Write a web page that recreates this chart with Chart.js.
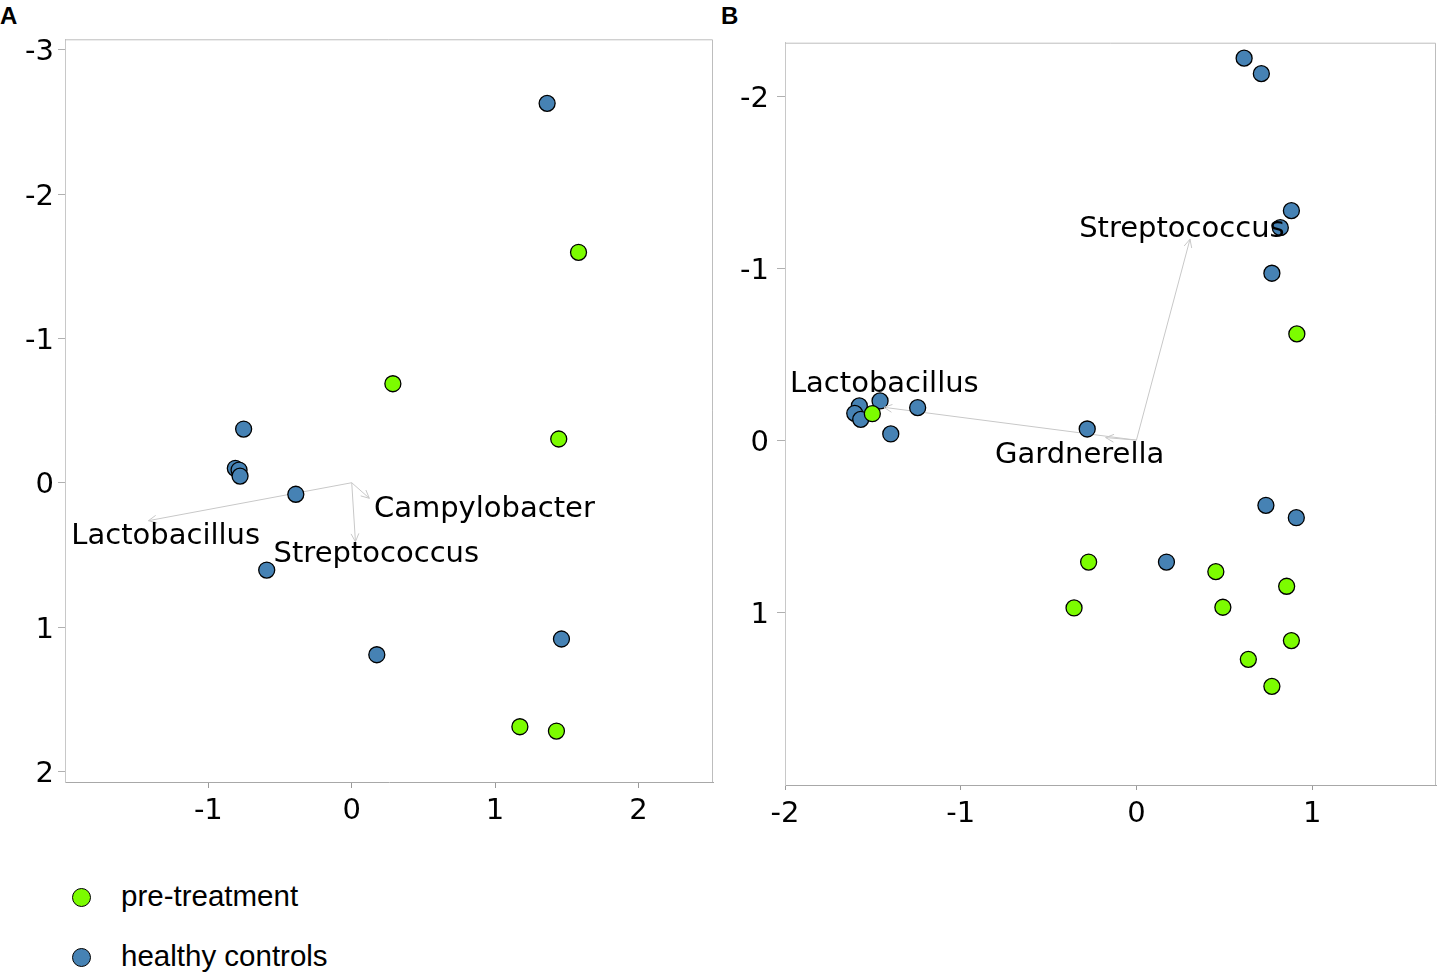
<!DOCTYPE html>
<html><head><meta charset="utf-8">
<script src="https://cdn.jsdelivr.net/npm/chart.js@4.4.1/dist/chart.umd.min.js"></script>
<style>
html,body{margin:0;padding:0;background:#fff;}
body{width:1439px;height:976px;position:relative;overflow:hidden;}
canvas{position:absolute;top:0;}
#ca{left:0;}
#cb{left:720px;}
.panel{position:absolute;font-family:"Liberation Sans",Arial,sans-serif;font-weight:bold;font-size:24px;line-height:24px;color:#000;}
.ltext{position:absolute;font-family:"Liberation Sans",Arial,sans-serif;font-size:29.5px;line-height:29px;color:#000;white-space:nowrap;}
.ldot{position:absolute;width:19px;height:19px;box-sizing:border-box;border:1.5px solid #000;border-radius:50%;}
</style></head>
<body>
<div class="panel" style="left:0px;top:4px;">A</div>
<div class="panel" style="left:721px;top:4px;">B</div>
<canvas id="ca" width="720" height="860" style="width:720px;height:860px;"></canvas>
<canvas id="cb" width="719" height="860" style="width:719px;height:860px;"></canvas>
<div id="legend"></div>
<script>
// ---- data ----
const groups = ["pre-treatment", "healthy controls"];
const groupColors = ["#7CFC00", "#4682B4"];

// Panel A
const aPreX = [1.582, 0.287, 1.444, 1.173, 1.428];
const aPreY = [-1.597, -0.686, -0.303, 1.691, 1.721];
const aHealthyX = [1.363, -0.754, -0.812, -0.786, -0.779, -0.390, -0.593, 0.175, 1.463];
const aHealthyY = [-2.629, -0.372, -0.100, -0.088, -0.046, 0.080, 0.605, 1.192, 1.083];
const aTaxa = ["Lactobacillus", "Campylobacter", "Streptococcus"];
const aArrowX = [-1.418, 0.123, 0.026];
const aArrowY = [0.263, 0.108, 0.409];
const aLabelX = [-1.956, 0.155, -0.545];
const aLabelY = [0.427, 0.236, 0.552];
const aXTicks = [-1, 0, 1, 2];
const aYTicks = [-3, -2, -1, 0, 1, 2];

// Panel B
const bPreX = [0.913, -1.503, -0.272, 0.452, 0.855, -0.355, 0.492, 0.882, 0.637, 0.771];
const bPreY = [-0.618, -0.154, 0.709, 0.765, 0.850, 0.976, 0.972, 1.166, 1.275, 1.432];
const bHealthyX = [0.613, 0.711, 0.882, 0.819, 0.771, -1.459, -1.577, -1.245, -1.603, -1.569, -1.398, -0.280, 0.737, 0.910, 0.171];
const bHealthyY = [-2.222, -2.132, -1.335, -1.236, -0.971, -0.228, -0.199, -0.189, -0.156, -0.121, -0.036, -0.065, 0.379, 0.451, 0.709];
const bTaxa = ["Streptococcus", "Lactobacillus", "Gardnerella"];
const bArrowX = [0.305, -1.437, -0.175];
const bArrowY = [-1.169, -0.191, -0.015];
const bLabelX = [-0.326, -1.972, -0.805];
const bLabelY = [-1.180, -0.282, 0.134];
const bXTicks = [-2, -1, 0, 1];
const bYTicks = [-2, -1, 0, 1];

// ---- helpers ----
const zip = (xs, ys) => xs.map((x, i) => ({x: x, y: ys[i]}));
const ARROW_COLOR = '#c8c8c8';
const FONT = '"DejaVu Sans", sans-serif';

const biplotPlugin = {
  id: 'biplot',
  beforeDatasetsDraw(chart) {
    const a = chart.chartArea, ctx = chart.ctx;
    ctx.save();
    ctx.strokeStyle = '#bdbdbd';
    ctx.lineWidth = 1;
    ctx.beginPath();
    ctx.moveTo(a.left, a.top + 0.5);
    ctx.lineTo(a.right - 0.5, a.top + 0.5);
    ctx.lineTo(a.right - 0.5, a.bottom);
    ctx.stroke();
    ctx.restore();
  },
  afterDatasetsDraw(chart) {
    const o = chart.options.plugins.biplot;
    const xs = chart.scales.x, ys = chart.scales.y, ctx = chart.ctx;
    ctx.save();
    ctx.strokeStyle = ARROW_COLOR;
    ctx.lineWidth = 1;
    const x0 = xs.getPixelForValue(0), y0 = ys.getPixelForValue(0);
    o.ax.forEach((ax, i) => {
      const px = xs.getPixelForValue(ax), py = ys.getPixelForValue(o.ay[i]);
      const ang = Math.atan2(py - y0, px - x0);
      const L = 9, spread = Math.PI / 7;
      ctx.beginPath();
      ctx.moveTo(px - L * Math.cos(ang - spread), py - L * Math.sin(ang - spread));
      ctx.lineTo(px, py);
      ctx.lineTo(px - L * Math.cos(ang + spread), py - L * Math.sin(ang + spread));
      ctx.stroke();
    });
    ctx.fillStyle = '#000';
    ctx.font = '29px ' + FONT;
    ctx.textAlign = 'left';
    ctx.textBaseline = 'alphabetic';
    o.labels.forEach((t, i) => {
      ctx.fillText(t, xs.getPixelForValue(o.lx[i]), ys.getPixelForValue(o.ly[i]));
    });
    ctx.restore();
  }
};

function makeChart(id, p) {
  const arrowSets = p.ax.map((ax, i) => ({
    type: 'scatter', showLine: true, data: [{x: 0, y: 0}, {x: ax, y: p.ay[i]}],
    borderColor: ARROW_COLOR, borderWidth: 1, pointRadius: 0, pointHoverRadius: 0, order: 5, fill: false
  }));
  return new Chart(document.getElementById(id), {
    type: 'scatter',
    data: {
      datasets: [
        {label: groups[0], data: zip(p.preX, p.preY), backgroundColor: groupColors[0], borderColor: '#000', borderWidth: 1.3, pointRadius: 8, order: 0},
        {label: groups[1], data: zip(p.hX, p.hY), backgroundColor: groupColors[1], borderColor: '#000', borderWidth: 1.3, pointRadius: 8, order: 1}
      ].concat(arrowSets)
    },
    options: {
      responsive: false, animation: false, devicePixelRatio: 1,
      layout: {padding: p.pad, autoPadding: false},
      plugins: {
        legend: {display: false}, tooltip: {enabled: false},
        biplot: {ax: p.ax, ay: p.ay, labels: p.labels, lx: p.lx, ly: p.ly}
      },
      scales: {
        x: {
          type: 'linear', min: p.xmin, max: p.xmax,
          afterBuildTicks: s => { s.ticks = p.xt.map(v => ({value: v})); },
          afterFit: s => { s.height = 60; s.paddingLeft = 0; s.paddingRight = 0; },
          grid: {display: true, drawOnChartArea: false, drawTicks: true, tickLength: p.xtl, color: '#9a9a9a'},
          border: {display: true, color: '#a8a8a8', width: 1},
          ticks: {font: {family: FONT, size: 29}, color: '#000', padding: p.xpad, maxRotation: 0, autoSkip: false, callback: v => String(v)}
        },
        y: {
          type: 'linear', reverse: true, min: p.ymin, max: p.ymax,
          afterBuildTicks: s => { s.ticks = p.yt.map(v => ({value: v})); },
          afterFit: s => { s.width = p.yw; s.paddingTop = 0; s.paddingBottom = 0; },
          grid: {display: true, drawOnChartArea: false, drawTicks: true, tickLength: p.ytl, color: '#b0b0b0'},
          border: {display: true, color: '#c8c8c8', width: 1},
          ticks: {font: {family: FONT, size: 29}, color: '#000', padding: p.ypad, labelOffset: 3, autoSkip: false, callback: v => String(v)}
        }
      }
    },
    plugins: [biplotPlugin]
  });
}

makeChart('ca', {
  preX: aPreX, preY: aPreY, hX: aHealthyX, hY: aHealthyY,
  ax: aArrowX, ay: aArrowY, labels: aTaxa, lx: aLabelX, ly: aLabelY,
  xmin: -2.0, xmax: 2.52, ymin: -3.073, ymax: 2.074, xt: aXTicks, yt: aYTicks,
  pad: {top: 39.3, right: 7, bottom: 18, left: 0}, yw: 65, ytl: 7, ypad: 4, xtl: 6, xpad: 6
});
makeChart('cb', {
  preX: bPreX, preY: bPreY, hX: bHealthyX, hY: bHealthyY,
  ax: bArrowX, ay: bArrowY, labels: bTaxa, lx: bLabelX, ly: bLabelY,
  xmin: -2.0, xmax: 1.705, ymin: -2.312, ymax: 2.006, xt: bXTicks, yt: bYTicks,
  pad: {top: 42.7, right: 3, bottom: 15, left: 0}, yw: 65, ytl: 8, ypad: 8, xtl: 5, xpad: 7
});

// ---- legend (HTML) ----
const leg = document.getElementById('legend');
const rowsTop = [881, 941];
groups.forEach((g, i) => {
  const dot = document.createElement('div');
  dot.className = 'ldot';
  dot.style.left = '72px';
  dot.style.top = (rowsTop[i] + 6.5) + 'px';
  dot.style.background = groupColors[i];
  leg.appendChild(dot);
  const t = document.createElement('div');
  t.className = 'ltext';
  t.style.left = '121px';
  t.style.top = rowsTop[i] + 'px';
  t.textContent = g;
  leg.appendChild(t);
});
</script>
</body></html>
